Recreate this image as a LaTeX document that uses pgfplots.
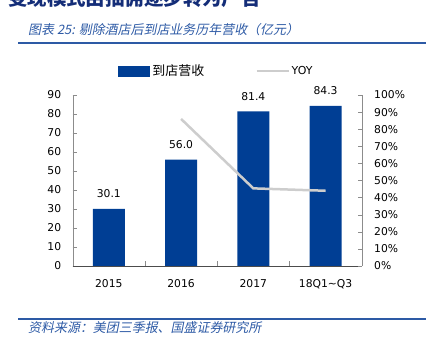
\documentclass[border=0pt]{standalone}
\usepackage{pgfplots}
\pgfplotsset{compat=1.18}
\usepackage{fontspec}
\setmainfont{DejaVu Sans}
\newfontfamily\cjk{Noto Sans CJK SC}
\newfontfamily\cjkit{Noto Sans CJK SC}[FakeSlant=0.2]
\definecolor{barblue}{RGB}{0,62,148}
\definecolor{titleblue}{RGB}{45,90,165}
\definecolor{navy}{RGB}{20,45,120}
\definecolor{yoygray}{RGB}{205,205,205}
\definecolor{axgray}{RGB}{140,140,140}
\begin{document}
\begin{tikzpicture}
\useasboundingbox (0bp,0bp) rectangle (426bp,351bp);
\begin{scope}[x=1bp,y=1bp]
\node[anchor=base west, inner sep=0, font=\cjk\bfseries\fontsize{19.5}{19.5}\selectfont, text=navy] at (8,346) {变现模式由抽佣逐步转为广告};
\node[anchor=west, inner sep=0, font=\cjkit\fontsize{13}{13}\selectfont, text=titleblue] at (28,321) {图表 25: 剔除酒店后到店业务历年营收（亿元）};
\draw[titleblue, line width=1.5bp] (18,308) -- (426,308);
\draw[titleblue, line width=1.5bp] (18,32) -- (426,32);
\node[anchor=west, inner sep=0, font=\cjkit\fontsize{13}{13}\selectfont, text=titleblue] at (28,23) {资料来源：美团三季报、国盛证券研究所};
\end{scope}

\begin{axis}[
  at={(72.7bp,85bp)}, anchor=south west, scale only axis,
  width=289bp, height=171bp,
  xmin=-0.5, xmax=3.5, ymin=0, ymax=90,
  ytick={0,10,...,90},
  xtick={0,1,2,3},
  xticklabels={2015,2016,2017,18Q1\char`\~Q3},
  minor xtick={0.5,1.5,2.5},
  major x tick style={draw=none},
  minor tick length=5bp,
  major tick length=4bp,
  tick align=inside,
  axis y line*=left, axis x line*=bottom,
  y axis line style={-, draw=axgray},
  x axis line style={-, draw=black!70},
  tick style={draw=axgray},
  ticklabel style={font=\fontsize{10.8}{12}\selectfont},
  /pgf/number format/assume math mode=true,
  yticklabel style={xshift=-8bp},
  xticklabel style={yshift=-10bp},
  legend style={at={(0.4976,1.14)}, anchor=center, draw=none, fill=none,
    legend columns=2, font=\fontsize{11}{12}\selectfont,
    /tikz/every even column/.append style={column sep=49bp},
    inner sep=0pt},
  clip=false,
]
\addplot[ybar, bar width=32bp, fill=barblue, draw=none,
  legend image code/.code={\fill[barblue] (0bp,-5.5bp) rectangle (32bp,5.5bp);},
  nodes near coords={\pgfmathprintnumber[fixed,fixed zerofill,precision=1,assume math mode=true]{\pgfplotspointmeta}},
  nodes near coords style={font=\fontsize{10.8}{12}\selectfont, text=black, yshift=7.5bp}]
  coordinates {(0,30.1) (1,56.0) (2,81.4) (3,84.3)};
\addlegendentry{\cjk\fontsize{13}{13}\selectfont 到店营收}
\addlegendimage{yoygray, line width=2.5bp, legend image code/.code={\draw[yoygray, line width=2.5bp] (0bp,0bp) -- (32bp,0bp);}}
\addlegendentry{YOY}
\end{axis}

\begin{axis}[
  at={(72.7bp,85bp)}, anchor=south west, scale only axis,
  width=289bp, height=171bp,
  xmin=-0.5, xmax=3.5, ymin=0, ymax=100,
  ytick={0,10,...,100},
  yticklabel={\pgfmathprintnumber{\tick}\%},
  axis y line*=right, axis x line=none,
  y axis line style={-, draw=axgray},
  tick style={draw=axgray},
  major tick length=4bp,
  tick align=inside,
  ticklabel style={font=\fontsize{10.8}{12}\selectfont},
  /pgf/number format/assume math mode=true,
  yticklabel style={xshift=9bp},
  clip=false,
]
\addplot[yoygray, line width=2.5bp] coordinates {(1,86.0) (2,45.4) (3,44.0)};
\end{axis}
\end{tikzpicture}
\end{document}
